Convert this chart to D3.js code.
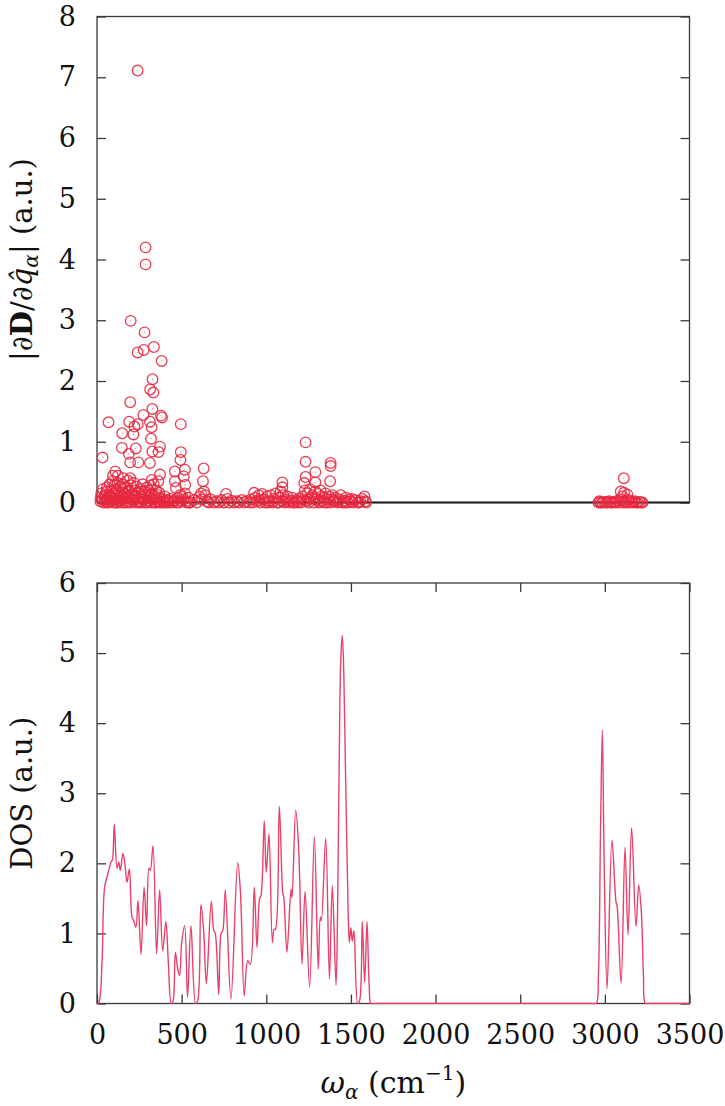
<!DOCTYPE html>
<html>
<head>
<meta charset="utf-8">
<script src="https://cdn.jsdelivr.net/npm/d3@7"></script>
<style>
  html, body { margin: 0; padding: 0; background: #fff; }
  svg { display: block; }
  text { font-family: "DejaVu Serif", serif; fill: #111; }
</style>
</head>
<body>
<svg id="chart" width="725" height="1106"></svg>
<script>
// ---------------- DATA ----------------
const xTicks = [0, 500, 1000, 1500, 2000, 2500, 3000, 3500];
const yTicksTop = [0, 1, 2, 3, 4, 5, 6, 7, 8];
const yTicksBottom = [0, 1, 2, 3, 4, 5, 6];

// |dD/dq| per mode: [omega (cm^-1), value (a.u.)] — strongly active modes
const strongModes = [
  [240,7.11],[287,4.20],[287,3.92],[199,2.99],[281,2.80],[240,2.47],[276,2.51],[336,2.56],
  [382,2.33],[328,2.03],[314,1.86],[333,1.81],[196,1.65],[327,1.54],[274,1.44],[378,1.43],
  [384,1.40],[68,1.32],[190,1.33],[221,1.25],[241,1.29],[313,1.33],[323,1.24],[495,1.29],
  [149,1.14],[215,1.12],[319,1.05],[1232,0.99],[147,0.90],[229,0.89],[372,0.92],[327,0.84],
  [364,0.83],[495,0.83],[188,0.80],[33,0.74],[196,0.66],[244,0.66],[313,0.65],[493,0.70],
  [1232,0.67],[1380,0.65],[1380,0.60],[630,0.56],[626,0.35],[1290,0.50],[519,0.54],[460,0.51],
  [513,0.43],[372,0.46],[108,0.51],[94,0.44],[123,0.44],[156,0.40],[196,0.40],[323,0.37],
  [362,0.35],[460,0.35],[521,0.29],[466,0.24],[1232,0.42],[1224,0.32],[1290,0.33],[1377,0.35],
  [1095,0.33],[1095,0.25],[3112,0.40]
];
// weakly active modes, low-frequency band (0–600 cm^-1)
const lowBandModes = [
  [20,0.02],[25,0.15],[30,0.05],[35,0.22],[40,0.0],[45,0.1],[50,0.03],[55,0.18],[60,0.25],[62,0.05],
  [68,0.0],[72,0.12],[75,0.3],[80,0.02],[85,0.2],[88,0.08],[92,0.35],[95,0.0],[100,0.15],[104,0.28],
  [108,0.05],[112,0.22],[115,0.0],[118,0.12],[122,0.32],[126,0.08],[130,0.18],[133,0.0],[137,0.26],
  [140,0.1],[144,0.04],[148,0.22],[152,0.3],[155,0.0],[158,0.14],[162,0.06],[165,0.25],[170,0.0],
  [174,0.18],[178,0.1],[182,0.36],[185,0.02],[190,0.2],[195,0.08],[200,0.28],[205,0.0],[210,0.15],
  [215,0.05],[218,0.32],[222,0.1],[226,0.2],[230,0.0],[235,0.26],[240,0.06],[245,0.15],[250,0.02],
  [255,0.22],[260,0.1],[265,0.0],[270,0.3],[275,0.05],[280,0.18],[285,0.0],[290,0.12],[295,0.25],
  [300,0.03],[305,0.2],[310,0.08],[315,0.28],[320,0.0],[325,0.15],[330,0.05],[335,0.3],[340,0.1],
  [345,0.0],[350,0.2],[355,0.06],[360,0.12],[365,0.0],[372,0.08],[378,0.0],[385,0.05],[392,0.02],
  [400,0.1],[408,0.0],[415,0.04],[425,0.0],[435,0.06],[445,0.0],[455,0.02],[470,0.0],[480,0.08],
  [490,0.12],[500,0.02],[510,0.05],[520,0.15],[530,0.0],[540,0.08],[550,0.0],
  [22,0.08],[48,0.12],[58,0.0],[78,0.1],[98,0.06],[110,0.0],[128,0.02],[146,0.12],[168,0.08],
  [188,0.0],[208,0.04],[228,0.12],[248,0.0],[262,0.18],[282,0.06],[298,0.0],[318,0.12],[338,0.0],
  [358,0.02],[368,0.16],[395,0.0],[420,0.02],[462,0.04],[485,0.0],[505,0.1],[525,0.02],[545,0.0]
];
// weakly active modes, mid band (560–1600 cm^-1)
const midBandModes = [
  [575,0.04],[590,0.0],[605,0.1],[615,0.15],[620,0.05],[632,0.18],[640,0.12],[650,0.02],[660,0.0],
  [672,0.05],[690,0.0],[705,0.02],[720,0.0],[735,0.04],[750,0.0],[762,0.14],[770,0.06],[780,0.0],
  [795,0.03],[810,0.0],[825,0.02],[840,0.0],[855,0.04],[870,0.0],[885,0.02],[900,0.0],
  [910,0.05],[920,0.0],[928,0.16],[935,0.08],[945,0.02],[955,0.12],[965,0.0],[975,0.14],[985,0.05],
  [995,0.0],[1005,0.1],[1015,0.02],[1025,0.12],[1035,0.0],[1045,0.06],[1055,0.15],[1065,0.0],
  [1075,0.08],[1085,0.18],[1093,0.02],[1100,0.12],[1108,0.0],[1115,0.05],[1125,0.1],[1135,0.0],
  [1145,0.03],[1155,0.08],[1165,0.0],[1175,0.04],[1185,0.0],[1195,0.06],[1205,0.0],[1212,0.1],
  [1220,0.05],[1228,0.2],[1235,0.02],[1242,0.15],[1250,0.0],[1258,0.22],[1265,0.08],[1272,0.12],
  [1280,0.0],[1290,0.18],[1298,0.05],[1305,0.14],[1312,0.0],[1320,0.2],[1328,0.1],[1335,0.02],
  [1342,0.08],[1350,0.15],[1358,0.0],[1365,0.05],[1372,0.1],[1380,0.0],[1390,0.12],[1400,0.02],
  [1410,0.08],[1420,0.0],[1430,0.05],[1440,0.12],[1450,0.0],[1460,0.03],[1470,0.08],[1480,0.0],
  [1490,0.05],[1500,0.02],[1512,0.0],[1525,0.04],[1540,0.0],[1555,0.02],[1568,0.06],[1580,0.1],
  [1585,0.02],[1590,0.0],
  [960,0.04],[1010,0.0],[1040,0.02],[1070,0.0],[1120,0.02],[1160,0.0],[1190,0.02],[1248,0.04],
  [1285,0.06],[1318,0.02],[1345,0.0],[1395,0.04],[1425,0.02],[1465,0.0],[1505,0.06],[1548,0.0]
];
// weakly active modes, C-H stretch band (2960–3230 cm^-1)
const chBandModes = [
  [2962,0.0],[2968,0.02],[2975,0.0],[2985,0.0],[2995,0.01],[3005,0.0],[3015,0.0],[3025,0.02],
  [3035,0.0],[3045,0.0],[3055,0.01],[3065,0.0],[3075,0.03],[3085,0.0],[3094,0.18],[3098,0.05],
  [3104,0.1],[3110,0.0],[3114,0.16],[3120,0.02],[3128,0.0],[3133,0.13],[3138,0.04],[3145,0.0],
  [3155,0.01],[3165,0.0],[3175,0.02],[3185,0.0],[3195,0.0],[3205,0.01],[3215,0.0],[3222,0.0]
];

// density of states: [omega (cm^-1), DOS (a.u.)]
const dosCurve = [
  [0,0],[4,0],[15,0.05],[30,0.6],[45,1.66],[63,1.84],[83,2.02],[91,2.05],[102,2.56],[118,1.93],
  [128,2.02],[138,1.9],[153,2.14],[165,1.99],[177,1.73],[191,1.92],[207,1.23],[217,1.18],[230,1.09],
  [242,1.47],[260,0.7],[278,1.66],[293,1.11],[307,1.93],[315,1.9],[331,2.25],[352,0.71],[370,1.62],
  [388,0.75],[407,1.17],[421,0.6],[439,0],[449,0.03],[463,0.73],[476,0.51],[488,0.4],[500,0.86],
  [518,1.11],[535,0.09],[555,1.11],[583,0],[595,0.04],[614,1.41],[630,1.04],[646,0.28],[675,1.46],
  [690,1.04],[698,1.01],[719,0.13],[733,1.0],[743,1.04],[758,1.62],[791,0.06],[831,2.01],[847,1.61],
  [870,0.11],[890,0.61],[906,0.56],[929,1.66],[945,0.8],[961,1.5],[969,1.54],[988,2.61],[1000,1.87],
  [1016,2.42],[1036,0.87],[1046,1.06],[1054,1.06],[1077,2.81],[1097,1.59],[1104,1.5],[1122,0.73],
  [1146,1.63],[1152,1.51],[1174,2.76],[1192,2.18],[1211,0.56],[1229,1.6],[1256,0.23],[1284,2.38],
  [1307,0.49],[1319,1.23],[1325,1.18],[1351,2.36],[1373,0.35],[1390,1.68],[1412,0.26],[1421,1.3],
  [1430,3.3],[1440,4.9],[1449,5.25],[1458,4.7],[1468,3.3],[1478,2.0],[1486,1.1],[1491,0.87],
  [1500,1.08],[1508,0.89],[1518,1.04],[1540,0],[1552,0.05],[1567,1.17],[1581,0.3],[1595,1.17],
  [1608,0.25],[1619,0],[1640,0],[2930,0],[2950,0],[2962,0.4],[2974,2.4],[2985,3.9],[2996,2.0],[3013,0.21],[3042,2.33],
  [3066,1.45],[3072,1.4],[3096,0.29],[3119,2.23],[3137,0.98],[3158,2.51],[3184,1.1],[3200,1.69],
  [3216,1.29],[3228,0.4],[3239,0],[3260,0],[3500,0]
];

// ---------------- DRAW ----------------
const svg = d3.select("#chart");
const markerColor = "#e8283f";
const lineColor = "#e8426a";
const axisColor = "#3a3a3a";
const tickFont = 27;
const fontFam = "'DejaVu Serif', serif";

const x = d3.scaleLinear().domain([0, 3500]).range([97, 689.5]);
const yTop = d3.scaleLinear().domain([0, 8]).range([502.5, 16.5]);
const yBot = d3.scaleLinear().domain([0, 6]).range([1003.5, 583]);

function styleAxis(g, showLabels) {
  g.attr("font-family", fontFam);
  g.select(".domain").remove();
  g.selectAll(".tick line").attr("stroke", axisColor).attr("stroke-width", 1.3);
  g.selectAll(".tick text").attr("font-size", tickFont).attr("fill", "#111");
  if (!showLabels) g.selectAll(".tick text").remove();
}

function panel(y, yTicks, withXTicks) {
  const [x0, x1] = x.range();
  const [yb, yt] = y.range();
  svg.append("g").attr("transform", `translate(${x0},0)`)
    .call(d3.axisLeft(y).tickValues(yTicks).tickSize(-9).tickPadding(21).tickFormat(d3.format("d")))
    .call(g => styleAxis(g, true));
  svg.append("g").attr("transform", `translate(${x1},0)`)
    .call(d3.axisRight(y).tickValues(yTicks).tickSize(-9))
    .call(g => styleAxis(g, false));
  if (withXTicks) {
    svg.append("g").attr("transform", `translate(0,${yb})`)
      .call(d3.axisBottom(x).tickValues(xTicks).tickSize(-9).tickPadding(21).tickFormat(d3.format("d")))
      .call(g => styleAxis(g, true));
    svg.append("g").attr("transform", `translate(0,${yt})`)
      .call(d3.axisTop(x).tickValues(xTicks).tickSize(-9))
      .call(g => styleAxis(g, false));
  }
  svg.append("rect").attr("x", x0).attr("y", yt).attr("width", x1 - x0).attr("height", yb - yt)
    .attr("fill", "none").attr("stroke", axisColor).attr("stroke-width", 1.3);
}

// ---- top panel ----
panel(yTop, yTicksTop, false);
svg.append("line").attr("x1", x(0)).attr("x2", x(3500)).attr("y1", yTop(0)).attr("y2", yTop(0))
  .attr("stroke", "#222").attr("stroke-width", 2);

const allModes = strongModes.concat(lowBandModes, midBandModes, chBandModes);
const pts = svg.append("g");
pts.selectAll("circle.m").data(allModes).join("circle").attr("class", "m")
  .attr("cx", d => x(d[0])).attr("cy", d => yTop(d[1])).attr("r", 5.3)
  .attr("fill", "none").attr("stroke", markerColor).attr("stroke-width", 1.3).attr("stroke-opacity", 0.9);
pts.selectAll("circle.c").data(allModes).join("circle").attr("class", "c")
  .attr("cx", d => x(d[0])).attr("cy", d => yTop(d[1])).attr("r", 0.6)
  .attr("fill", markerColor).attr("fill-opacity", 0.7);

// ---- bottom panel ----
panel(yBot, yTicksBottom, true);
svg.append("clipPath").attr("id", "clipBot").append("rect")
  .attr("x", x.range()[0]).attr("y", yBot.range()[1])
  .attr("width", x.range()[1] - x.range()[0]).attr("height", yBot.range()[0] - yBot.range()[1] + 1);
const line = d3.line().x(d => x(d[0])).y(d => yBot(d[1])).curve(d3.curveCatmullRom.alpha(0.5));
svg.append("path").datum(dosCurve).attr("d", line).attr("clip-path", "url(#clipBot)")
  .attr("fill", "none").attr("stroke", lineColor).attr("stroke-width", 1.4);

// ---- axis titles ----
const titleSize = 29;
const subSize = 20;
const t1 = svg.append("text").attr("transform", `translate(32,${(yTop.range()[0] + yTop.range()[1]) / 2}) rotate(-90)`)
  .attr("text-anchor", "middle").attr("font-size", titleSize);
t1.append("tspan").text("|\u2202");
t1.append("tspan").attr("font-weight", "bold").text("D");
t1.append("tspan").text("/\u2202");
t1.append("tspan").attr("font-style", "italic").text("q\u0302");
t1.append("tspan").attr("font-style", "italic").attr("font-size", subSize).attr("dy", 6).text("\u03b1");
t1.append("tspan").attr("dy", -6).text("| (a.u.)");

svg.append("text").attr("transform", `translate(32,${(yBot.range()[0] + yBot.range()[1]) / 2}) rotate(-90)`)
  .attr("text-anchor", "middle").attr("font-size", titleSize).text("DOS (a.u.)");

const t3 = svg.append("text").attr("x", (x.range()[0] + x.range()[1]) / 2).attr("y", 1093)
  .attr("text-anchor", "middle").attr("font-size", 30);
t3.append("tspan").attr("font-style", "italic").text("\u03c9");
t3.append("tspan").attr("font-style", "italic").attr("font-size", subSize).attr("dy", 6).text("\u03b1");
t3.append("tspan").attr("dy", -6).text(" (cm");
t3.append("tspan").attr("font-size", subSize).attr("dy", -13).text("\u22121");
t3.append("tspan").attr("dy", 13).text(")");
</script>
</body>
</html>
